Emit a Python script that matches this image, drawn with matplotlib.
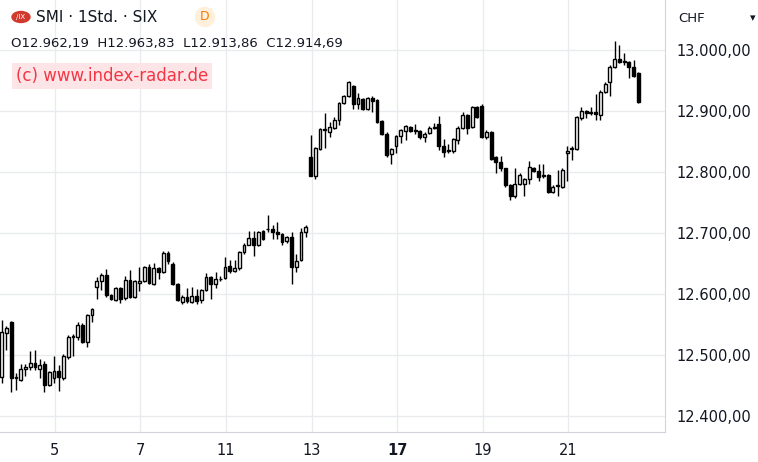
import matplotlib.pyplot as plt
from matplotlib.patches import Circle

# hourly SMI candles: open, close, high, low
opens = [12464, 12536, 12554, 12462, 12460, 12477, 12480, 12487, 12478, 12486,
         12451, 12462, 12474, 12463, 12497, 12530, 12529, 12549, 12522, 12566,
         12612, 12621, 12631, 12598, 12591, 12610, 12593, 12623, 12596, 12619,
         12622, 12644, 12617, 12642, 12637, 12668, 12650, 12617, 12587, 12596,
         12587, 12597, 12591, 12607, 12628, 12617, 12624, 12626, 12646, 12638,
         12642, 12669, 12681, 12692, 12681, 12703, 12706, 12707, 12702, 12698,
         12687, 12693, 12644, 12656, 12702,
         12825, 12794, 12838, 12869, 12866, 12873, 12885, 12914, 12925, 12941,
         12911, 12919, 12904, 12921, 12918, 12883, 12862, 12829, 12843, 12859,
         12868, 12874, 12868, 12867, 12858, 12864, 12872, 12879, 12843, 12834,
         12834, 12853, 12873, 12893, 12874, 12907, 12908, 12858, 12866,
         12824, 12817, 12806, 12779, 12760, 12781, 12780, 12788, 12806, 12801,
         12794, 12795, 12768, 12777, 12776, 12832, 12838, 12838, 12888, 12900,
         12897, 12898, 12893, 12932, 12948, 12972, 12985, 12980, 12980, 12972,
         12962]
closes = [12538, 12544, 12462, 12463, 12478, 12480, 12487, 12480, 12484, 12451,
          12472, 12474, 12464, 12499, 12530, 12531, 12549, 12522, 12566, 12575,
          12621, 12631, 12598, 12592, 12610, 12592, 12623, 12595, 12621, 12622,
          12644, 12619, 12642, 12637, 12668, 12655, 12617, 12590, 12596, 12588,
          12597, 12588, 12607, 12628, 12617, 12625, 12625, 12645, 12638, 12642,
          12669, 12681, 12692, 12681, 12701, 12691, 12707, 12702, 12698, 12686,
          12693, 12644, 12655, 12702, 12710,
          12794, 12839, 12870, 12870, 12874, 12885, 12913, 12925, 12948, 12911,
          12921, 12904, 12921, 12917, 12882, 12863, 12828, 12838, 12859, 12869,
          12875, 12867, 12867, 12858, 12863, 12873, 12873, 12842, 12833, 12835,
          12854, 12873, 12893, 12873, 12907, 12891, 12858, 12865, 12822,
          12817, 12806, 12778, 12760, 12781, 12796, 12789, 12808, 12802, 12792,
          12795, 12768, 12776, 12778, 12804, 12835, 12839, 12890, 12900, 12896,
          12898, 12895, 12932, 12945, 12972, 12985, 12980, 12981, 12972, 12958,
          12915]
highs = [12557, 12548, 12556, 12470, 12485, 12486, 12506, 12508, 12493, 12490,
         12474, 12499, 12484, 12502, 12533, 12535, 12555, 12552, 12568, 12578,
         12628, 12634, 12641, 12600, 12612, 12612, 12630, 12640, 12623, 12645,
         12646, 12650, 12651, 12645, 12670, 12670, 12652, 12619, 12598, 12610,
         12612, 12608, 12609, 12635, 12630, 12637, 12630, 12660, 12656, 12656,
         12671, 12684, 12704, 12703, 12703, 12705, 12729, 12714, 12718, 12700,
         12695, 12702, 12666, 12708, 12714,
         12861, 12841, 12872, 12897, 12882, 12891, 12915, 12927, 12950, 12943,
         12929, 12921, 12923, 12924, 12920, 12885, 12866, 12840, 12861, 12871,
         12877, 12876, 12879, 12869, 12865, 12875, 12880, 12892, 12855, 12846,
         12856, 12875, 12899, 12895, 12909, 12909, 12911, 12869, 12868,
         12826, 12826, 12807, 12781, 12807, 12798, 12791, 12818, 12808, 12813,
         12813, 12797, 12778, 12804, 12806, 12842, 12843, 12892, 12906, 12902,
         12906, 12928, 12934, 12947, 12975, 13015, 13008, 12995, 12982, 12984,
         12964]
lows = [12455, 12508, 12440, 12443, 12458, 12466, 12476, 12476, 12462, 12440,
        12449, 12455, 12442, 12460, 12494, 12498, 12525, 12520, 12514, 12555,
        12592, 12606, 12596, 12590, 12589, 12585, 12590, 12593, 12594, 12605,
        12620, 12617, 12615, 12624, 12635, 12650, 12615, 12588, 12584, 12586,
        12585, 12584, 12585, 12605, 12592, 12610, 12622, 12624, 12635, 12636,
        12640, 12666, 12680, 12663, 12679, 12689, 12702, 12690, 12690, 12681,
        12683, 12616, 12637, 12655, 12693,
        12793, 12788, 12836, 12839, 12858, 12870, 12877, 12912, 12923, 12903,
        12904, 12902, 12902, 12899, 12880, 12861, 12825, 12814, 12831, 12847,
        12852, 12865, 12863, 12855, 12850, 12862, 12871, 12836, 12824, 12832,
        12832, 12846, 12871, 12862, 12872, 12889, 12856, 12855, 12819,
        12798, 12801, 12776, 12755, 12758, 12779, 12760, 12780, 12800, 12786,
        12791, 12766, 12766, 12761, 12774, 12786, 12819, 12836, 12886, 12889,
        12893, 12886, 12886, 12930, 12924, 12970, 12978, 12976, 12954, 12956,
        12913]

tick_pos = [11.2, 29.1, 47.2, 65.3, 83.2, 101.3, 119.2]
tick_labels = ["5", "7", "11", "13", "17", "19", "21"]
price_ticks = [12400, 12500, 12600, 12700, 12800, 12900, 13000]

W, H = 758, 462
fig = plt.figure(figsize=(W / 100, H / 100), dpi=100)
ax = fig.add_axes([0, 30 / H, 665 / W, 432 / H])

txt = "#131722"
for i in range(len(opens)):
    o, c = opens[i], closes[i]
    ax.vlines(i, lows[i], highs[i], color="black", lw=1, zorder=2)
    lo, hi = min(o, c), max(o, c)
    if hi - lo < 1.5:
        hi = lo + 1.5
    face = "black" if c < o else "white"
    ax.bar(i, hi - lo, bottom=lo, width=0.6, color=face, edgecolor="black", lw=1, zorder=3)

ax.set_xlim(-0.36, 139.6)
ax.set_ylim(12374, 13082)
ax.set_xticks(tick_pos)
ax.set_xticklabels(tick_labels, fontsize=10.5, color=txt)
for lbl in ax.get_xticklabels():
    if lbl.get_text() == "17":
        lbl.set_fontweight("bold")
ax.set_yticks(price_ticks)
ax.yaxis.tick_right()
ax.set_yticklabels([f"{p:,}.00".replace(",", "X").replace(".", ",").replace("X", ".") for p in price_ticks],
                   fontsize=10.5, color=txt)
ax.tick_params(axis="both", length=0, pad=8)
ax.grid(True, color="#e9ebef", lw=1, zorder=0)
for s in ["top", "left"]:
    ax.spines[s].set_visible(False)
ax.spines["right"].set_color("#d1d4dc")
ax.spines["bottom"].set_color("#d1d4dc")

# header and watermark
fig.patches.append(Circle((21 / W, 1 - 17 / H), 9 / W, transform=fig.transFigure, color="#d0392b"))
fig.text(16 / W, 1 - 17 / H, "/IX", fontsize=5, color="white", va="center")
fig.text(36 / W, 1 - 17 / H, "SMI · 1Std. · SIX", fontsize=11, color=txt, va="center")
fig.text(205 / W, 1 - 17 / H, "D", fontsize=9, color="#f57c00", va="center", ha="center",
         bbox=dict(boxstyle="circle,pad=0.3", fc="#fff0dc", ec="none"))
fig.text(11 / W, 1 - 44 / H, "O12.962,19  H12.963,83  L12.913,86  C12.914,69",
         fontsize=9.5, color=txt, va="center")
fig.text(16 / W, 1 - 76 / H, "(c) www.index-radar.de", fontsize=12, color="#f23645", va="center",
         bbox=dict(boxstyle="square,pad=0.25", fc="#fde4e6", ec="none"))
fig.text(678 / W, 1 - 18 / H, "CHF", fontsize=9.5, color=txt, va="center")
fig.text(750 / W, 1 - 18 / H, "▾", fontsize=8, color=txt, va="center")

fig.savefig("out.png", dpi=100)
